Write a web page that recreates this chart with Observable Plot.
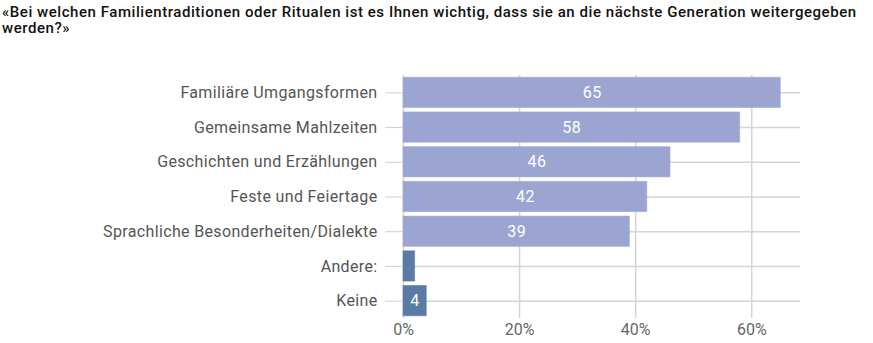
<!DOCTYPE html>
<html>
<head>
<meta charset="utf-8">
<script src="https://cdn.jsdelivr.net/npm/d3@7"></script>
<script src="https://cdn.jsdelivr.net/npm/@observablehq/plot@0.6"></script>
<style>
  html, body { margin: 0; padding: 0; background: #fff; }
  #title { font-family: Roboto, "Noto Sans", sans-serif; font-size: 15px; font-weight: 500; line-height: 16px; letter-spacing: 0.55px; color: #111; padding: 4px 0 0 2px; height: 36px; box-sizing: border-box; width: 873px; }
  #chart svg { display: block; }
</style>
</head>
<body>
<div id="title">«Bei welchen Familientraditionen oder Ritualen ist es Ihnen wichtig, dass sie an die nächste Generation weitergegeben werden?»</div>
<div id="chart"></div>
<script>
const categories = ["Familiäre Umgangsformen", "Gemeinsame Mahlzeiten", "Geschichten und Erzählungen", "Feste und Feiertage", "Sprachliche Besonderheiten/Dialekte", "Andere:", "Keine"];
const values = [65, 58, 46, 42, 39, 2, 4];
const groups = ["Tradition", "Tradition", "Tradition", "Tradition", "Tradition", "Sonstige", "Sonstige"];
const showLabel = [true, true, true, true, true, false, true];
const xTicks = [0, 20, 40, 60];

const data = categories.map((c, i) => ({category: c, value: values[i], group: groups[i], show: showLabel[i]}));

const chart = Plot.plot({
  width: 873,
  height: 307,
  marginLeft: 403,
  marginRight: 73,
  marginTop: 39,
  marginBottom: 25,
  style: {fontFamily: "Roboto, 'Noto Sans', sans-serif", fontSize: "15px", background: "#fff"},
  x: {domain: [0, 68.4], ticks: xTicks, tickFormat: d => d + "%"},
  y: {domain: categories, paddingInner: 0.13, paddingOuter: 0.065, round: false},
  color: {domain: ["Tradition", "Sonstige"], range: ["#9ca5d1", "#5a7ba3"]},
  marks: [
    Plot.ruleX(xTicks, {x: d => d, stroke: "#d4d4d4", strokeWidth: 1.5}),
    Plot.ruleY(data, {y: "category", stroke: "#d4d4d4", strokeWidth: 1.5}),
    Plot.barX(data, {x: "value", y: "category", fill: "group", stroke: "group", strokeOpacity: 0.6, strokeWidth: 1}),
    Plot.text(data.filter(d => d.show), {x: d => d.value / 2, y: "category", text: d => String(d.value), fill: "white", fontSize: 16}),
    Plot.axisY({tickSize: 18, tickPadding: 8, stroke: "#cfcfcf", fill: "#555", fontSize: 16, label: null}),
    Plot.axisX({ticks: xTicks, tickSize: 0, tickPadding: 5, fill: "#666", fontSize: 16, tickFormat: d => d + "%", label: null})
  ]
});
chart.querySelectorAll("g[aria-label='y-axis tick label'] text").forEach(t => t.setAttribute("letter-spacing", "0.35"));
chart.querySelectorAll("g[aria-label='text'] text").forEach(t => t.setAttribute("letter-spacing", "0.5"));
document.getElementById("chart").appendChild(chart);
</script>
</body>
</html>
